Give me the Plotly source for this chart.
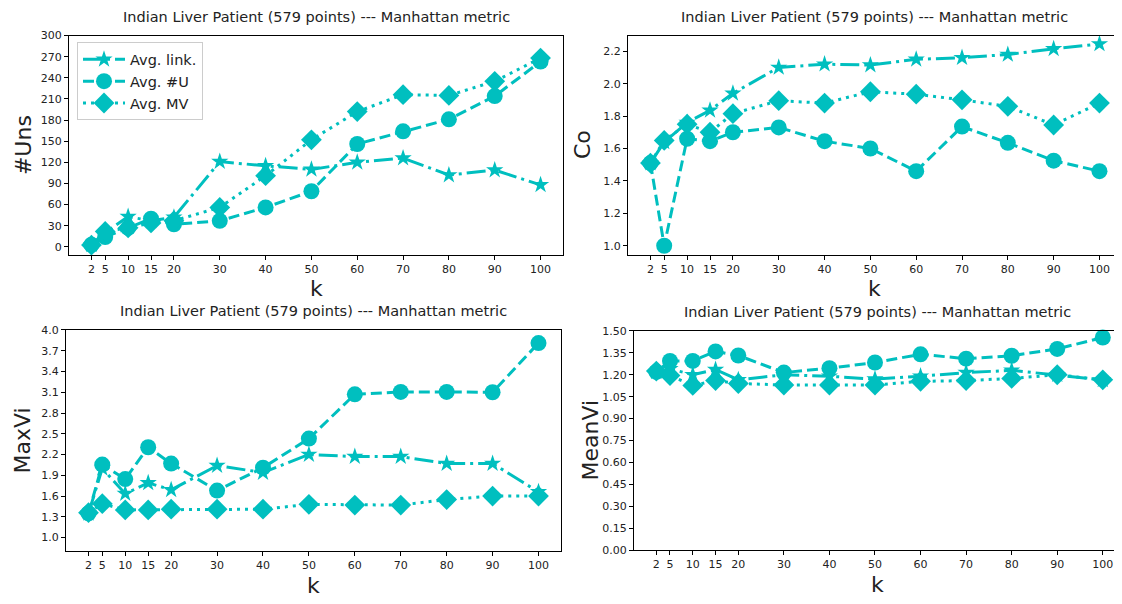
import plotly.graph_objects as go

k = [2, 5, 10, 15, 20, 30, 40, 50, 60, 70, 80, 90, 100]
k_ticks = [2, 5, 10, 15, 20, 30, 40, 50, 60, 70, 80, 90, 100]

uns_link = [3, 20, 43, 37, 42, 121, 115, 110, 120, 126, 102, 109, 88]
uns_u = [3, 14, 27, 40, 32, 37, 56, 79, 146, 164, 181, 214, 263]
uns_mv = [2.5, 22, 27, 34, 37, 56, 101, 152, 192, 216, 215, 235, 268]

co_link = [1.51, 1.64, 1.76, 1.835, 1.94, 2.10, 2.12, 2.115, 2.15, 2.16, 2.18, 2.215, 2.245]
co_u = [1.51, 1.0, 1.66, 1.645, 1.70, 1.73, 1.645, 1.60, 1.46, 1.735, 1.635, 1.525, 1.46]
co_mv = [1.51, 1.65, 1.75, 1.70, 1.815, 1.895, 1.88, 1.95, 1.935, 1.90, 1.86, 1.745, 1.88]

maxvi_link = [1.35, 2.0, 1.635, 1.79, 1.69, 2.04, 1.94, 2.20, 2.17, 2.17, 2.07, 2.07, 1.66]
maxvi_u = [1.35, 2.055, 1.845, 2.305, 2.07, 1.68, 2.01, 2.43, 3.07, 3.105, 3.105, 3.10, 3.81]
maxvi_mv = [1.36, 1.49, 1.40, 1.40, 1.41, 1.41, 1.41, 1.48, 1.47, 1.47, 1.55, 1.60, 1.60]

meanvi_link = [1.22, 1.24, 1.20, 1.235, 1.165, 1.20, 1.19, 1.17, 1.19, 1.215, 1.23, 1.20, 1.165]
meanvi_u = [1.22, 1.295, 1.295, 1.36, 1.332, 1.215, 1.245, 1.284, 1.34, 1.31, 1.33, 1.377, 1.455]
meanvi_mv = [1.225, 1.195, 1.127, 1.16, 1.14, 1.13, 1.13, 1.13, 1.155, 1.16, 1.175, 1.20, 1.165]

uns_ticks = [0, 30, 60, 90, 120, 150, 180, 210, 240, 270, 300]
co_ticks = [1.0, 1.2, 1.4, 1.6, 1.8, 2.0, 2.2]
maxvi_ticks = [1.0, 1.3, 1.6, 1.9, 2.2, 2.5, 2.8, 3.1, 3.4, 3.7, 4.0]
meanvi_ticks = [0.0, 0.15, 0.30, 0.45, 0.60, 0.75, 0.90, 1.05, 1.20, 1.35, 1.50]

series_names = ["Avg. link.", "Avg. #U", "Avg. MV"]
title_text = "Indian Liver Patient (579 points) --- Manhattan metric"

COLOR = "#00BFBF"
FONT = "DejaVu Sans"
# the page body has an 8px margin: the figure starts at (8, 8) in the window
OFF = 8
W, H = 1122 - OFF, 604 - OFF


def px_x(x):
    return (x - OFF) / W


def px_y(y):
    return 1 - (y - OFF) / H


styles = [
    dict(symbol="star", size=13, dash="19px,5px,3px,5px"),
    dict(symbol="circle", size=16, dash="11px,5px"),
    dict(symbol="diamond", size=16, dash="3px,5px"),
]

panels = [
    dict(data=[uns_link, uns_u, uns_mv], ticks=uns_ticks, fmt=None, yr=[-11, 300],
         xpx=(69, 563), ypx=(30, 254), xr=[-2.9, 104.9], ylabel="#Uns", ylx=23),
    dict(data=[co_link, co_u, co_mv], ticks=co_ticks, fmt=".1f", yr=[0.945, 2.297],
         xpx=(628, 1121), ypx=(30, 254), xr=[-2.9, 104.7], ylabel="Co", ylx=582),
    dict(data=[maxvi_link, maxvi_u, maxvi_mv], ticks=maxvi_ticks, fmt=".1f", yr=[0.806, 4.0],
         xpx=(66, 561), ypx=(331, 557), xr=[-2.9, 104.9], ylabel="MaxVi", ylx=22),
    dict(data=[meanvi_link, meanvi_u, meanvi_mv], ticks=meanvi_ticks, fmt=".2f", yr=[0.0, 1.5],
         xpx=(634, 1121), ypx=(332, 556), xr=[-2.9, 104.0], ylabel="MeanVi", ylx=590),
]

fig = go.Figure()
layout = dict(
    width=W, height=H,
    margin=dict(l=0, r=0, t=0, b=0),
    paper_bgcolor="white", plot_bgcolor="white",
    font=dict(family=FONT, color="#222222", size=11),
    showlegend=True,
    legend=dict(x=px_x(77), y=px_y(37), xanchor="left", yanchor="top",
                bgcolor="rgba(255,255,255,0.8)", bordercolor="#cccccc", borderwidth=1,
                font=dict(family=FONT, size=14.5, color="#222222"),
                itemwidth=42, tracegroupgap=0),
    annotations=[],
)

for i, p in enumerate(panels):
    n = "" if i == 0 else str(i + 1)
    xa, ya = "x" + n, "y" + n
    for j in range(3):
        st = styles[j]
        fig.add_trace(go.Scatter(
            x=k, y=p["data"][j], xaxis=xa, yaxis=ya, name=series_names[j],
            mode="lines+markers", showlegend=(i == 0),
            line=dict(color=COLOR, width=3, dash=st["dash"]),
            marker=dict(symbol=st["symbol"], size=st["size"], color=COLOR,
                        line=dict(width=0)),
            cliponaxis=False,
        ))
    x0, x1 = p["xpx"]
    y0, y1 = p["ypx"]
    axcommon = dict(showline=True, mirror=True, linecolor="black", linewidth=1,
                    ticks="outside", ticklen=4, tickwidth=1, tickcolor="black",
                    showgrid=False, zeroline=False,
                    tickfont=dict(family=FONT, size=11, color="#222222"))
    layout["xaxis" + n] = dict(domain=[px_x(x0), min(px_x(x1), 1.0)], range=p["xr"], anchor=ya,
                               tickmode="array", tickvals=k_ticks,
                               ticktext=[str(t) for t in k_ticks], **axcommon)
    yt = [str(t) if p["fmt"] is None else format(t, p["fmt"]) for t in p["ticks"]]
    layout["yaxis" + n] = dict(domain=[px_y(y1), px_y(y0)], range=p["yr"], anchor=xa,
                               tickmode="array", tickvals=p["ticks"], ticktext=yt, **axcommon)
    cx = (x0 + x1) / 2
    layout["annotations"] += [
        dict(text=title_text, x=px_x(cx), y=px_y(y0 - 19), xref="paper", yref="paper",
             showarrow=False, xanchor="center", yanchor="middle",
             font=dict(family=FONT, size=14.5, color="#222222")),
        dict(text="k", x=px_x(cx), y=px_y(y1 + 35), xref="paper", yref="paper",
             showarrow=False, xanchor="center", yanchor="middle",
             font=dict(family=FONT, size=22, color="#222222")),
        dict(text=p["ylabel"], x=px_x(p["ylx"]), y=px_y((y0 + y1) / 2), xref="paper",
             yref="paper", showarrow=False, xanchor="center", yanchor="middle", textangle=-90,
             font=dict(family=FONT, size=22, color="#222222")),
    ]

fig.update_layout(**layout)
fig.write_html("out.html")
